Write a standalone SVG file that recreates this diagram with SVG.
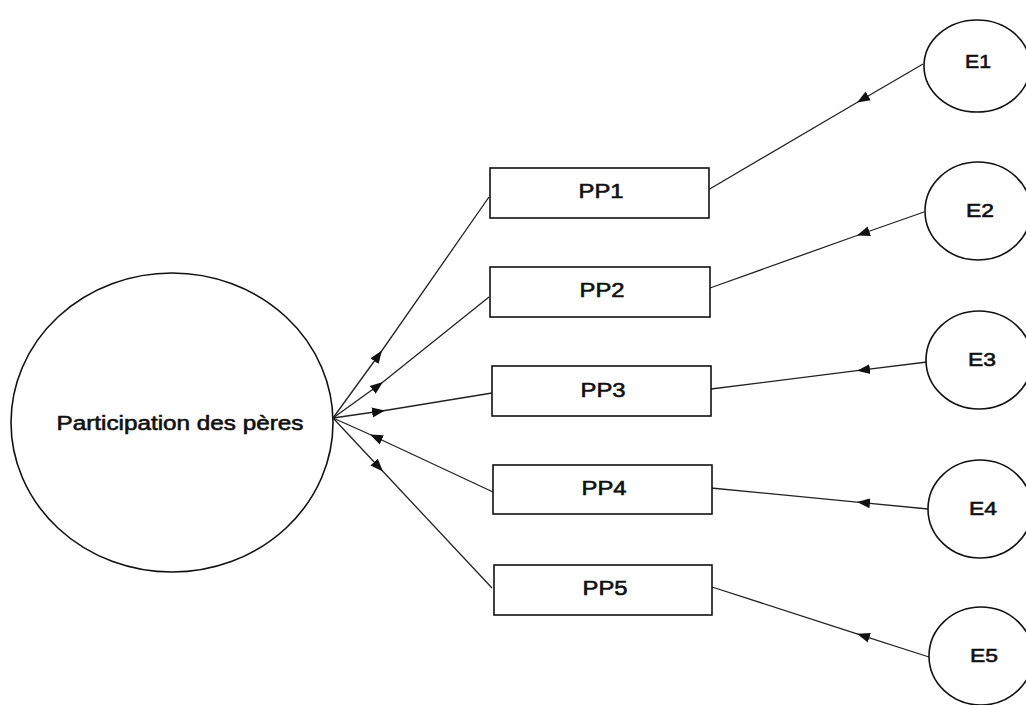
<svg xmlns="http://www.w3.org/2000/svg" width="1026" height="705" viewBox="0 0 1026 705">
<style>
.shape{fill:#fff;stroke:#111;stroke-width:1.6}
.lbl{font-family:"Liberation Sans",Arial,sans-serif;font-size:20px;fill:#111;stroke:#111;stroke-width:0.6;text-anchor:middle}
.elbl{font-family:"Liberation Sans",Arial,sans-serif;font-size:19px;fill:#111;stroke:#111;stroke-width:0.6;text-anchor:middle}
.conn{fill:none;stroke:#222;stroke-width:1.3;marker-mid:url(#ah)}
</style>
<defs>
<marker id="ah" markerUnits="userSpaceOnUse" markerWidth="14" markerHeight="11" refX="13" refY="5" orient="auto" viewBox="0 0 14 10">
<path d="M0,0 L13,5 L0,10 Z" fill="#111"/>
</marker>
</defs>
<rect width="1026" height="705" fill="#fff"/>
<g id="connectors">
<path class="conn" d="M333,418 L382,350.5 L489,197"/>
<path class="conn" d="M333,418 L383,382 L489,297"/>
<path class="conn" d="M333,418 L385,410.5 L492,393"/>
<path class="conn" d="M493,492 L370,434.5 L333,418"/>
<path class="conn" d="M333,418 L383,471.5 L492,588"/>
<path class="conn" d="M923,64 L857,102.5 L708,190"/>
<path class="conn" d="M924,212 L857,235.5 L710,288"/>
<path class="conn" d="M927,362 L857,370.7 L711,389"/>
<path class="conn" d="M928,509 L857,502.1 L711,488"/>
<path class="conn" d="M929,657 L857,633.8 L712,587"/>
</g>
<g id="F">
<ellipse class="shape" cx="172" cy="422.5" rx="161" ry="149.5"/>
<text class="lbl" x="180" y="430" textLength="247" lengthAdjust="spacingAndGlyphs">Participation des pères</text>
</g>
<g id="PP1">
<rect class="shape" x="490" y="168" width="219" height="50"/>
<text class="lbl" x="601" y="198" textLength="45" lengthAdjust="spacingAndGlyphs">PP1</text>
</g>
<g id="PP2">
<rect class="shape" x="490" y="267" width="220" height="50"/>
<text class="lbl" x="602" y="297" textLength="45" lengthAdjust="spacingAndGlyphs">PP2</text>
</g>
<g id="PP3">
<rect class="shape" x="492" y="366" width="219" height="50"/>
<text class="lbl" x="603" y="397" textLength="45" lengthAdjust="spacingAndGlyphs">PP3</text>
</g>
<g id="PP4">
<rect class="shape" x="493" y="465" width="219" height="49"/>
<text class="lbl" x="604" y="495" textLength="45" lengthAdjust="spacingAndGlyphs">PP4</text>
</g>
<g id="PP5">
<rect class="shape" x="494" y="565" width="218" height="50"/>
<text class="lbl" x="605" y="595" textLength="45" lengthAdjust="spacingAndGlyphs">PP5</text>
</g>
<g id="E1">
<ellipse class="shape" cx="977" cy="66" rx="53" ry="46"/>
<text class="elbl" x="978" y="68" textLength="26" lengthAdjust="spacingAndGlyphs">E1</text>
</g>
<g id="E2">
<ellipse class="shape" cx="978" cy="211" rx="53" ry="49"/>
<text class="elbl" x="980" y="217" textLength="28" lengthAdjust="spacingAndGlyphs">E2</text>
</g>
<g id="E3">
<ellipse class="shape" cx="979" cy="360" rx="53" ry="49"/>
<text class="elbl" x="982" y="366" textLength="28" lengthAdjust="spacingAndGlyphs">E3</text>
</g>
<g id="E4">
<ellipse class="shape" cx="980" cy="509" rx="52" ry="49"/>
<text class="elbl" x="983" y="515" textLength="28" lengthAdjust="spacingAndGlyphs">E4</text>
</g>
<g id="E5">
<ellipse class="shape" cx="981" cy="656" rx="52" ry="49"/>
<text class="elbl" x="984" y="662" textLength="28" lengthAdjust="spacingAndGlyphs">E5</text>
</g>
</svg>
